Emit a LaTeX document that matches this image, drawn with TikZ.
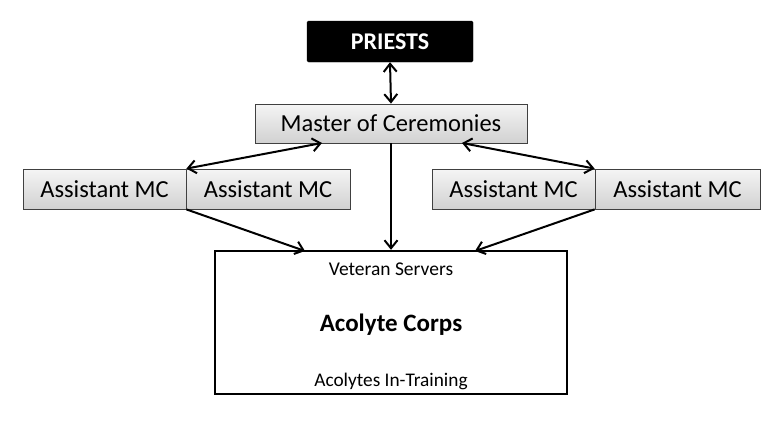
\documentclass[tikz,border=0pt]{standalone}
\usepackage{fontspec}
\setmainfont{Carlito}
\usetikzlibrary{arrows.meta,shadows}
\begin{document}
\begin{tikzpicture}[x=1pt,y=-1pt,
  grbox/.style={draw=black!75,line width=0.8pt,top color=black!4,bottom color=black!18,
    drop shadow={shadow xshift=1pt,shadow yshift=-1pt,opacity=0.25},inner sep=0pt,font=\fontsize{24.5}{28}\selectfont},
  tip/.style={Straight Barb[length=8pt,width=13pt,line width=2pt]},
  conn/.style={line width=2pt,-{Straight Barb[length=8pt,width=13pt,line width=2pt]}},
  bconn/.style={line width=2pt,{Straight Barb[length=8pt,width=13pt,line width=2pt]}-{Straight Barb[length=8pt,width=13pt,line width=2pt]}}]
\useasboundingbox (0,0) rectangle (778,426);
\node[fill=black,draw=black,rounded corners=1.5pt,minimum width=166pt,minimum height=41pt,inner sep=0pt,
  text=white,font=\bfseries\fontsize{24}{28}\selectfont] (pr) at (390,41.5) {PRIESTS};
\node[grbox,minimum width=272pt,minimum height=39pt] (mc) at (391,123.5) {Master of Ceremonies};
\node[grbox,minimum width=163pt,minimum height=40pt] (a1) at (104.5,189) {Assistant MC};
\node[grbox,minimum width=164pt,minimum height=40pt] (a2) at (268,189) {Assistant MC};
\node[grbox,minimum width=163pt,minimum height=40pt] (a3) at (513.5,189) {Assistant MC};
\node[grbox,minimum width=165pt,minimum height=40pt] (a4) at (677.5,189) {Assistant MC};
\node[draw=black,line width=2.4pt,minimum width=352pt,minimum height=143pt,inner sep=0pt] (ac) at (391,322.5) {};
\node[font=\fontsize{19.5}{23}\selectfont] (vs) at (391,269) {Veteran Servers};
\node[font=\bfseries\fontsize{25}{29}\selectfont] (cp) at (391,325) {Acolyte Corps};
\node[font=\fontsize{19.3}{23}\selectfont] (ai) at (391,381) {Acolytes In-Training};
\coordinate (mcl) at (322,143);
\coordinate (mcr) at (462,143);
\coordinate (acl) at (305,251);
\coordinate (acr) at (475,251);
\draw[bconn] (pr.south) -- (mc.north);
\draw[bconn] (mcl) -- (a1.north east);
\draw[bconn] (mcr) -- (a4.north west);
\draw[conn] (mc.south) -- (ac.north);
\draw[conn] (a1.south east) -- (acl);
\draw[conn] (a4.south west) -- (acr);
\end{tikzpicture}
\end{document}
